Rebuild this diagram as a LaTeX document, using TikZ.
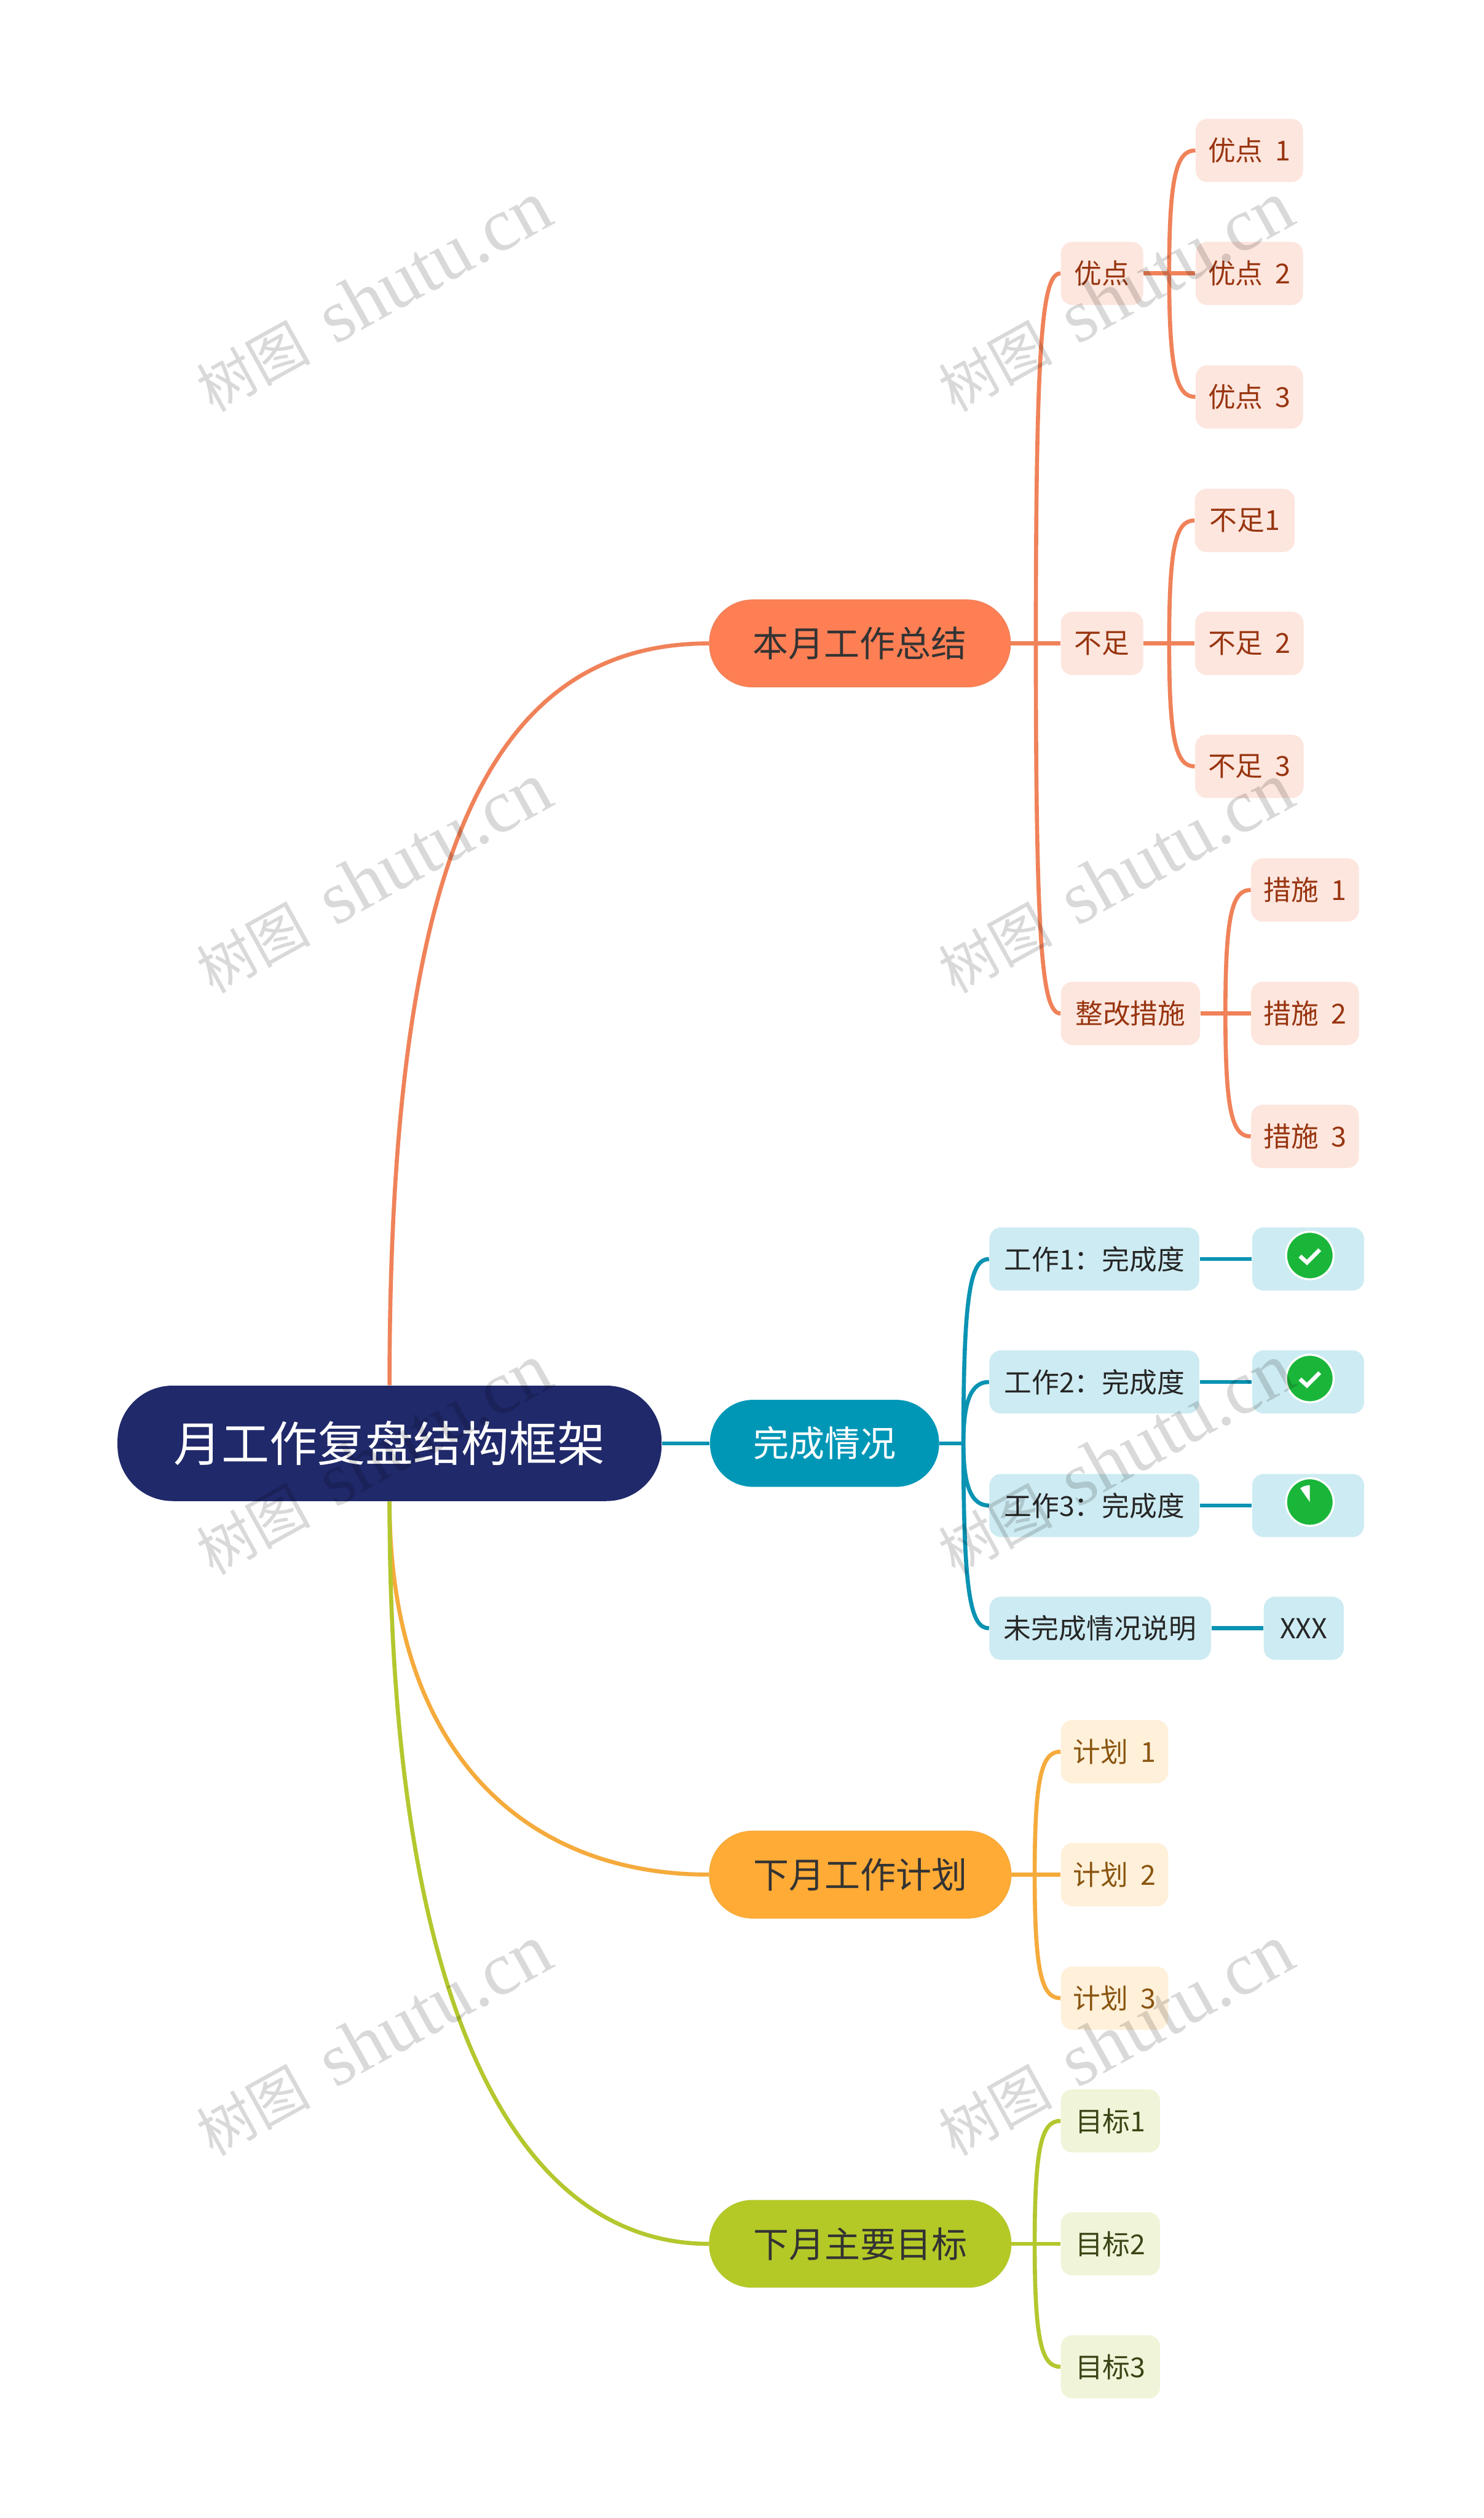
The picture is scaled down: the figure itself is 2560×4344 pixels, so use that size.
\documentclass[tikz,border=0pt]{standalone}
\usepackage{fontspec}
\setmainfont[WordSpace=2]{Noto Sans CJK SC}
\newfontfamily\wmfont{Liberation Serif}
\usetikzlibrary{positioning}
\definecolor{rootc}{HTML}{20296A}
\definecolor{topict}{HTML}{333333}
\definecolor{redc}{HTML}{FF7F55}
\definecolor{redl}{HTML}{F08259}
\definecolor{redf}{HTML}{FDE6DE}
\definecolor{redt}{HTML}{983510}
\definecolor{tealc}{HTML}{0097B7}
\definecolor{teall}{HTML}{0A93B3}
\definecolor{tealf}{HTML}{CDEBF2}
\definecolor{oranc}{HTML}{FFAB36}
\definecolor{oranl}{HTML}{F5AB3C}
\definecolor{oranf}{HTML}{FFF0D9}
\definecolor{orant}{HTML}{8A5510}
\definecolor{limec}{HTML}{B5C926}
\definecolor{limel}{HTML}{B4C72E}
\definecolor{limef}{HTML}{F0F4D8}
\definecolor{limet}{HTML}{3A4517}
\definecolor{okgreen}{HTML}{1AB63A}
\tikzset{
  rootnode/.style={fill=rootc, text=white, rounded corners=0.95cm, minimum width=9.38cm, minimum height=1.99cm, font=\fontsize{23.5}{28}\selectfont},
  topic/.style={rounded corners=0.74cm, line width=0.4pt, text=topict, minimum height=1.5cm, font=\fontsize{17.5}{21}\selectfont},
  leaf/.style={rounded corners=0.2cm, minimum height=1.09cm, inner sep=0pt, font=\fontsize{13.5}{16}\selectfont},
  redleaf/.style={leaf, fill=redf, text=redt},
  tealleaf/.style={leaf, fill=tealf, text=black!85},
  oranleaf/.style={leaf, fill=oranf, text=orant},
  limeleaf/.style={leaf, fill=limef, text=limet},
  branch/.style={line width=2pt},
  twig/.style={line width=2pt},
  okcircle/.style={circle, fill=okgreen, draw=white, line width=1pt, minimum size=0.82cm, inner sep=0pt},
  okcheck/.style={draw=white, line width=2pt},
  wmark/.style={rotate=29, text=black, text opacity=0.15}
}
\begin{document}
\begin{tikzpicture}[x=0.01cm, y=-0.01cm, on grid]
  \fill[white] (0,0) rectangle (2560,4344);
  \useasboundingbox (0,0) rectangle (2560,4344);

  \node[rootnode] (root) at (672,2490) {月工作复盘结构框架};

  % first branch
  \node[topic, fill=redc, draw=redl, minimum width=5.19cm] (zj) at (1483.5,1110) {本月工作总结};
  \node[redleaf, minimum width=1.42cm] (yd) [above right=6.38cm and 4.175cm of zj] {优点};
  \node[redleaf, minimum width=1.42cm] (bz) [right=4.175cm of zj] {不足};
  \node[redleaf, minimum width=2.4cm] (zg) [below right=6.38cm and 4.665cm of zj] {整改措施};
  \node[redleaf, minimum width=1.85cm] (yd2) [right=2.54cm of yd] {优点 2};
  \node[redleaf, minimum width=1.85cm] (yd1) [above=2.12cm of yd2] {优点 1};
  \node[redleaf, minimum width=1.85cm] (yd3) [below=2.13cm of yd2] {优点 3};
  \node[redleaf, minimum width=1.87cm] (bz2) [right=2.54cm of bz] {不足 2};
  \node[redleaf, minimum width=1.72cm] (bz1) [above=2.12cm of bz2, xshift=-0.08cm] {不足1};
  \node[redleaf, minimum width=1.87cm] (bz3) [below=2.12cm of bz2] {不足 3};
  \node[redleaf, minimum width=1.86cm] (cs2) [right=3.01cm of zg] {措施 2};
  \node[redleaf, minimum width=1.86cm] (cs1) [above=2.13cm of cs2] {措施 1};
  \node[redleaf, minimum width=1.86cm] (cs3) [below=2.12cm of cs2] {措施 3};

  % second branch
  \node[topic, fill=tealc, text=white, minimum width=3.95cm] (wc) at (1422.5,2490) {完成情况};
  \node[tealleaf, minimum width=3.62cm] (gz1) at (1888,2172) {工作1：完成度};
  \node[tealleaf, minimum width=3.62cm] (gz2) [below=2.12cm of gz1] {工作2：完成度};
  \node[tealleaf, minimum width=3.62cm] (gz3) [below=2.13cm of gz2] {工作3：完成度};
  \node[tealleaf, minimum width=3.82cm] (wwc) at (1898,2809) {未完成情况说明};
  \node[tealleaf, minimum width=1.93cm] (jd1) [right=3.685cm of gz1] {};
  \node[tealleaf, minimum width=1.93cm] (jd2) [right=3.685cm of gz2] {};
  \node[tealleaf, minimum width=1.93cm] (jd3) [right=3.685cm of gz3] {};
  \node[tealleaf, minimum width=1.38cm] (xx) [right=3.51cm of wwc] {XXX};
  \node[okcircle] (ok1) [above=0.06cm of jd1, xshift=0.03cm] {};
  \node[okcircle] (ok2) [above=0.06cm of jd2, xshift=0.03cm] {};
  \node[okcircle] (ok3) [above=0.06cm of jd3, xshift=0.03cm] {};
  \foreach \n in {ok1,ok2} {
    \draw[okcheck] (\n.center) ++(-17,1) -- ++(12,11) -- ++(22,-22);
  }
  \fill[white] (ok3.center) -- ++(0,-29) arc[start angle=270, end angle=235, radius=29] -- cycle;

  % third branch
  \node[topic, fill=oranc, draw=oranl, minimum width=5.2cm] (jh) at (1484,3234) {下月工作计划};
  \node[oranleaf, minimum width=1.85cm] (jh2) [right=4.385cm of jh] {计划 2};
  \node[oranleaf, minimum width=1.85cm] (jh1) [above=2.12cm of jh2] {计划 1};
  \node[oranleaf, minimum width=1.85cm] (jh3) [below=2.13cm of jh2] {计划 3};

  % fourth branch
  \node[topic, fill=limec, draw=limel, minimum width=5.2cm] (mb) at (1484,3871) {下月主要目标};
  \node[limeleaf, minimum width=1.71cm] (mb2) [right=4.315cm of mb] {目标2};
  \node[limeleaf, minimum width=1.71cm] (mb1) [above=2.12cm of mb2] {目标1};
  \node[limeleaf, minimum width=1.71cm] (mb3) [below=2.12cm of mb2] {目标3};

  \coordinate (zjs) at (1787,1110);
  \coordinate (yds) at (2017,472);
  \coordinate (bzs) at (2017,1110);
  \coordinate (zgs) at (2114,1748);
  \coordinate (wcs) at (1662,2490);
  \coordinate (jhs) at (1785,3234);
  \coordinate (mbs) at (1785,3871);

  % from the root
  \draw[branch, redl] (root.north) .. controls +(0,-897) and +(-386,0) .. (zj.west);
  \draw[branch, teall] (root.east) -- (wc.west);
  \draw[branch, oranl] (root.south) .. controls +(0,430) and +(-320,0) .. (jh.west);
  \draw[branch, limel] (root.south) .. controls +(0,900) and +(-320,0) .. (mb.west);

  % first branch lines
  \draw[twig, redl] (zj.east) -- (bz.west);
  \draw[twig, redl] (zjs) .. controls +(0,-520) and +(-32,0) .. (yd.west);
  \draw[twig, redl] (zjs) .. controls +(0,520) and +(-32,0) .. (zg.west);
  \draw[twig, redl] (yd.east) -- (yd2.west);
  \draw[twig, redl] (yds) .. controls +(0,-170) and +(-32,0) .. (yd1.west);
  \draw[twig, redl] (yds) .. controls +(0,170) and +(-32,0) .. (yd3.west);
  \draw[twig, redl] (bz.east) -- (bz2.west);
  \draw[twig, redl] (bzs) .. controls +(0,-170) and +(-32,0) .. (bz1.west);
  \draw[twig, redl] (bzs) .. controls +(0,170) and +(-32,0) .. (bz3.west);
  \draw[twig, redl] (zg.east) -- (cs2.west);
  \draw[twig, redl] (zgs) .. controls +(0,-170) and +(-32,0) .. (cs1.west);
  \draw[twig, redl] (zgs) .. controls +(0,170) and +(-32,0) .. (cs3.west);

  % second branch lines
  \draw[twig, teall] (wc.east) -- (wcs);
  \draw[twig, teall] (wcs) .. controls +(0,-260) and +(-32,0) .. (gz1.west);
  \draw[twig, teall] (wcs) .. controls +(0,-70) and +(-32,0) .. (gz2.west);
  \draw[twig, teall] (wcs) .. controls +(0,70) and +(-32,0) .. (gz3.west);
  \draw[twig, teall] (wcs) .. controls +(0,260) and +(-32,0) .. (wwc.west);
  \foreach \a/\b in {gz1/jd1,gz2/jd2,gz3/jd3,wwc/xx} {
    \draw[twig, teall] (\a.east) -- (\b.west);
  }

  % third and fourth branch lines
  \draw[twig, oranl] (jh.east) -- (jh2.west);
  \draw[twig, oranl] (jhs) .. controls +(0,-170) and +(-32,0) .. (jh1.west);
  \draw[twig, oranl] (jhs) .. controls +(0,170) and +(-32,0) .. (jh3.west);
  \draw[twig, limel] (mb.east) -- (mb2.west);
  \draw[twig, limel] (mbs) .. controls +(0,-170) and +(-32,0) .. (mb1.west);
  \draw[twig, limel] (mbs) .. controls +(0,170) and +(-32,0) .. (mb3.west);

  % marks on top of everything
  \begin{scope}
    \clip (0,0) rectangle (2560,4344);
    \foreach \i/\y in {1/512,2/1515,3/2518,4/3520,5/4523} {
      \foreach \j/\x in {1/644,2/1924} {
        \node[wmark] (wm\i\j) at (\x,\y) {\fontsize{28}{36}\selectfont 树图 {\wmfont\fontsize{37}{36}\selectfont shutu.cn}};
      }
    }
  \end{scope}
\end{tikzpicture}
\end{document}
